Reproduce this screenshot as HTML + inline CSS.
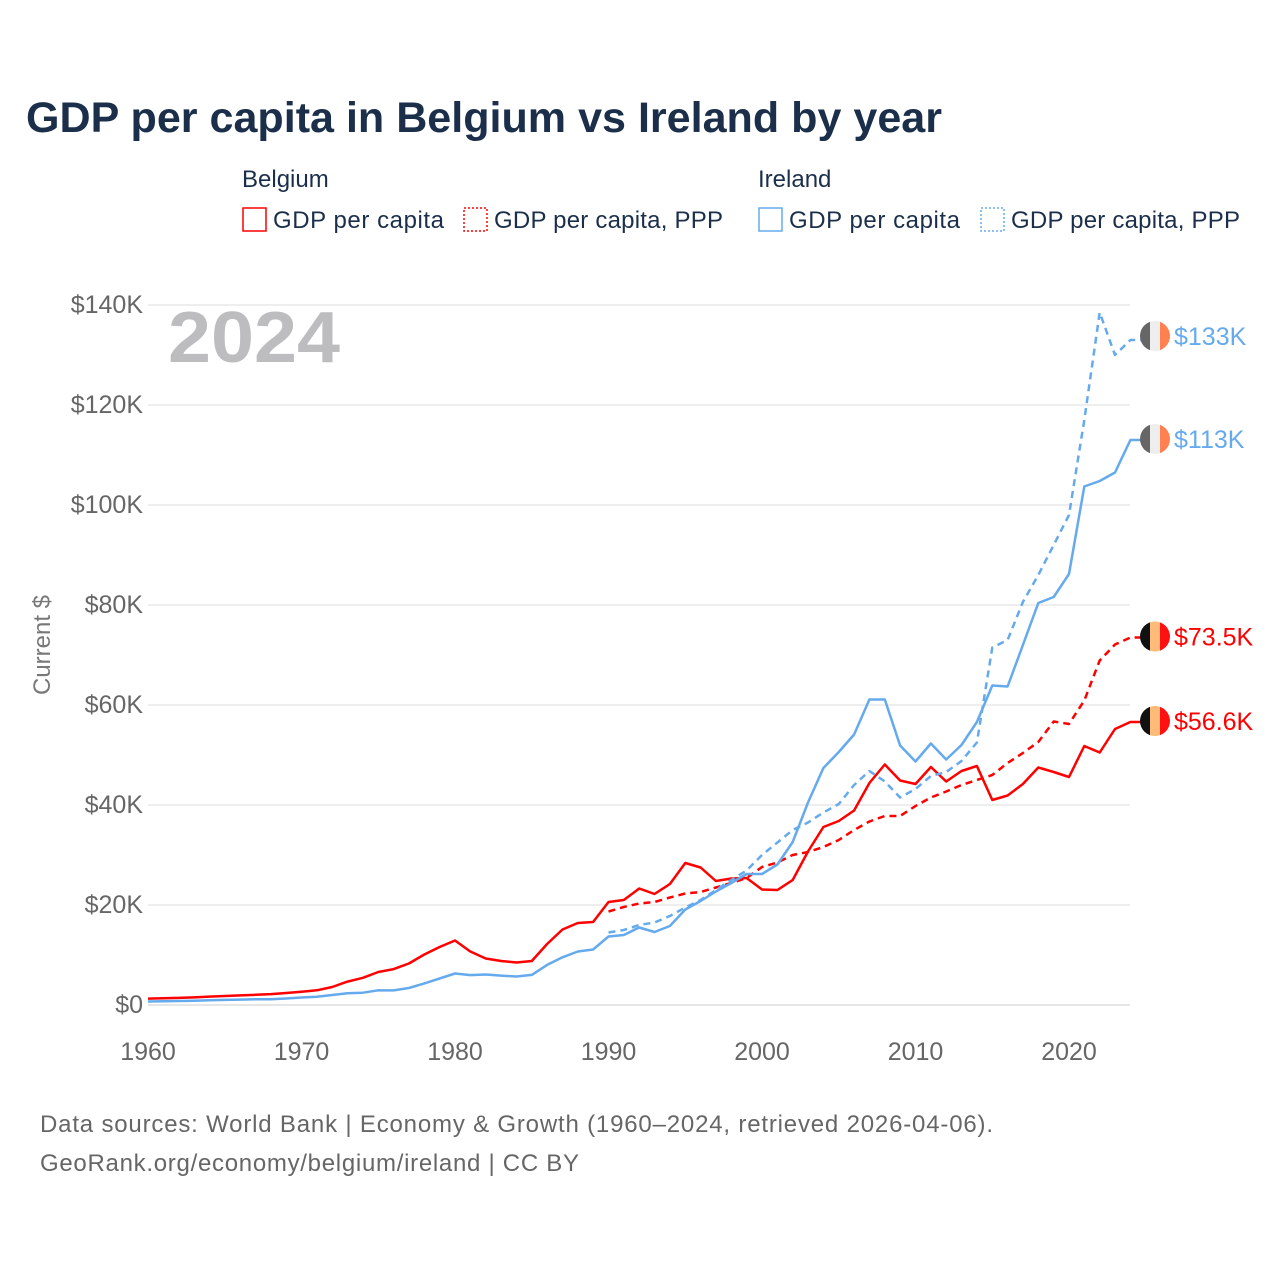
<!DOCTYPE html>
<html><head><meta charset="utf-8"><style>
body{margin:0;background:#fff;width:1280px;height:1280px;overflow:hidden;font-family:"Liberation Sans",sans-serif}
</style></head><body>
<svg width="1280" height="1280" xmlns="http://www.w3.org/2000/svg">
<text x="26" y="132" font-size="43" font-weight="bold" fill="#1b2f4b" textLength="916" lengthAdjust="spacingAndGlyphs">GDP per capita in Belgium vs Ireland by year</text>
<g font-size="24" fill="#1b2f4b">
<text x="242" y="187">Belgium</text>
<text x="758" y="187">Ireland</text>
<g><rect x="243" y="208" width="23" height="23" fill="none" stroke="#f00" stroke-width="1.5"/><text x="273" y="228" textLength="171">GDP per capita</text></g>
<g><rect x="464" y="208" width="23" height="23" fill="none" stroke="#f00" stroke-width="1.5" stroke-dasharray="2,2"/><text x="494" y="228" textLength="229">GDP per capita, PPP</text></g>
<g><rect x="759" y="208" width="23" height="23" fill="none" stroke="#66aaee" stroke-width="1.5"/><text x="789" y="228" textLength="171">GDP per capita</text></g>
<g><rect x="981" y="208" width="23" height="23" fill="none" stroke="#66aaee" stroke-width="1.5" stroke-dasharray="2,2"/><text x="1011" y="228" textLength="229">GDP per capita, PPP</text></g>
</g>
<text x="168" y="362" font-size="72" font-weight="bold" fill="#bdbdbf" textLength="172" lengthAdjust="spacingAndGlyphs">2024</text>
<text transform="translate(50,645) rotate(-90)" text-anchor="middle" font-size="24" fill="#777">Current $</text>
<g id="grid"></g><g id="yt"></g><g id="xt"></g><g id="lines"></g><g id="ends"></g>
<g font-size="24" fill="#666">
<text x="40" y="1132" textLength="953">Data sources: World Bank | Economy &amp; Growth (1960–2024, retrieved 2026-04-06).</text>
<text x="40" y="1171" textLength="539">GeoRank.org/economy/belgium/ireland | CC BY</text>
</g>
</svg>
<script>
const yearsStart=1960, pppStart=1990;
const beGdp=[1.27,1.35,1.43,1.52,1.67,1.80,1.92,2.04,2.17,2.39,2.66,2.94,3.60,4.67,5.45,6.61,7.17,8.31,10.1,11.6,12.9,10.7,9.3,8.8,8.5,8.8,12.2,15.1,16.4,16.6,20.6,21.0,23.3,22.2,24.2,28.4,27.5,24.8,25.3,25.4,23.1,23.0,25.0,30.7,35.6,36.8,38.9,44.4,48.1,44.9,44.2,47.6,44.7,46.8,47.8,41.0,41.9,44.2,47.5,46.6,45.6,51.8,50.5,55.2,56.6];
const bePpp=[18.7,19.6,20.3,20.6,21.5,22.3,22.6,23.5,24.4,25.4,27.6,28.5,30.0,30.6,31.6,33.0,35.0,36.7,37.8,37.8,39.8,41.5,42.7,44.0,45.0,46.0,48.4,50.4,52.6,56.7,56.2,60.9,68.9,72.1,73.5];
const ieGdp=[0.69,0.74,0.79,0.85,0.95,1.03,1.08,1.16,1.14,1.30,1.49,1.66,2.01,2.36,2.46,2.95,2.92,3.40,4.33,5.30,6.30,5.97,6.09,5.87,5.70,6.02,8.02,9.55,10.7,11.1,13.7,14.0,15.5,14.6,15.8,19.1,20.8,22.7,24.4,26.2,26.2,28.1,32.6,40.5,47.4,50.6,54.1,61.1,61.1,51.9,48.7,52.3,49.1,52.0,56.6,63.9,63.7,72.0,80.4,81.6,86.2,103.7,104.8,106.5,113.0];
const iePpp=[14.5,15.0,16.0,16.5,17.8,19.5,21.0,23.0,25.0,26.9,30.0,32.5,35.0,36.5,38.5,40.2,44.0,46.8,44.7,41.5,43.2,45.8,46.6,48.8,52.5,71.5,73.0,80.6,86.0,92.0,98.0,117.0,138.5,130.0,133.0];
const yTicks=[0,20,40,60,80,100,120,140];
const xTicks=[1960,1970,1980,1990,2000,2010,2020];
const endLabels=["$56.6K","$73.5K","$113K","$133K"];
const NS="http://www.w3.org/2000/svg";
const X=y=>148+(y-1960)*(921/60);
const Y=v=>1005-v*5;
function mk(t,a,p){const e=document.createElementNS(NS,t);for(const k in a)e.setAttribute(k,a[k]);document.getElementById(p).appendChild(e);return e;}
yTicks.forEach(v=>{
 const l=mk('line',{x1:148,x2:1130,y1:Y(v),y2:Y(v),stroke:v?'#e8e8e8':'#ddd','stroke-width':1.5},'grid');
 
 
 const t=mk('text',{x:143,y:Y(v)+8,'text-anchor':'end','font-size':25,fill:'#666'},'yt');
 t.textContent='$'+v+(v?'K':'');
 
 
});
xTicks.forEach(y=>{
 const t=mk('text',{x:X(y),y:1060,'text-anchor':'middle','font-size':25,fill:'#666'},'xt');
 t.textContent=y;
 
 
});
function series(arr,start,color,dash,name){
 const pts=arr.map((v,i)=>X(start+i).toFixed(1)+','+Y(v).toFixed(1));
 const last=arr[arr.length-1];
 pts.push('1142,'+Y(last).toFixed(1));
 const p=mk('polyline',{points:pts.join(' '),fill:'none',stroke:color,'stroke-width':2.5,'stroke-dasharray':dash,'stroke-linejoin':'round'},'lines');
 
 
}
series(beGdp,yearsStart,'#ff0000','none','line-belgium-gdp');
series(bePpp,pppStart,'#ff0000','7,5','line-belgium-ppp');
series(ieGdp,yearsStart,'#66aaee','none','line-ireland-gdp');
series(iePpp,pppStart,'#66aaee','7,5','line-ireland-ppp');
const ends=[[beGdp,'be','#ff0000'],[bePpp,'be','#ff0000'],[ieGdp,'ie','#66aaee'],[iePpp,'ie','#66aaee']];
ends.forEach((e,i)=>{
 const v=e[0][e[0].length-1], cy=Y(v)-(i==3?4:1), cx=1155;
 const cols=e[1]=='be'?['#111','#ffbb77','#ff1111']:['#666','#eee','#ff8050'];
 const g=mk('g',{},'ends');
 
 
 const id='c'+i;
 const cp=document.createElementNS(NS,'clipPath');cp.setAttribute('id',id);
 const cc=document.createElementNS(NS,'circle');cc.setAttribute('cx',cx);cc.setAttribute('cy',cy);cc.setAttribute('r',15);cp.appendChild(cc);g.appendChild(cp);
 cols.forEach((c,j)=>{const r=document.createElementNS(NS,'rect');r.setAttribute('x',cx-15+j*10);r.setAttribute('y',cy-15);r.setAttribute('width',10);r.setAttribute('height',30);r.setAttribute('fill',c);r.setAttribute('clip-path','url(#'+id+')');g.appendChild(r);});
 const t=document.createElementNS(NS,'text');t.setAttribute('x',1174);t.setAttribute('y',cy+9);t.setAttribute('font-size',25);t.setAttribute('fill',e[2]);t.textContent=endLabels[i];g.appendChild(t);
});
</script>
</body></html>
